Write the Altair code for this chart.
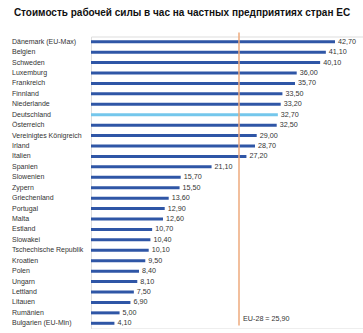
import altair as alt
import pandas as pd

countries = ["Dänemark (EU-Max)", "Belgien", "Schweden", "Luxemburg", "Frankreich", "Finnland",
             "Niederlande", "Deutschland", "Österreich", "Vereinigtes Königreich", "Irland", "Italien",
             "Spanien", "Slowenien", "Zypern", "Griechenland", "Portugal", "Malta", "Estland",
             "Slowakei", "Tschechische Republik", "Kroatien", "Polen", "Ungarn", "Lettland",
             "Litauen", "Rumänien", "Bulgarien (EU-Min)"]
values = [42.7, 41.1, 40.1, 36.0, 35.7, 33.5, 33.2, 32.7, 32.5, 29.0, 28.7, 27.2, 21.1, 15.7,
          15.5, 13.6, 12.9, 12.6, 10.7, 10.4, 10.1, 9.5, 8.4, 8.1, 7.5, 6.9, 5.0, 4.1]
highlight = ["Deutschland"]
eu_avg = 25.9
eu_label = "EU-28 = 25,90"
title_text = "Стоимость рабочей силы в час на частных предприятиях стран ЕС"

df = pd.DataFrame({
    "country": countries,
    "value": values,
    "label": [f"{v:.2f}".replace(".", ",") for v in values],
    "hl": ["yes" if c in highlight else "no" for c in countries],
})
avg_df = pd.DataFrame({"avg": [eu_avg], "label": [eu_label]})

FONT = "Liberation Sans"
W, H = 272, 292

xs = alt.Scale(domain=[0, 47.6], nice=False, zero=True)
ys = alt.Scale(domain=countries, paddingInner=0, paddingOuter=0)

base = alt.Chart(df)

bars = base.mark_bar(size=3).encode(
    x=alt.X("value:Q", scale=xs, axis=None),
    y=alt.Y("country:N", scale=ys, axis=None, sort=countries),
    color=alt.Color("hl:N", scale=alt.Scale(domain=["no", "yes"], range=["#2F56A6", "#74C7EC"]), legend=None),
)

vals = base.mark_text(align="left", baseline="middle", dx=3, font=FONT, fontSize=7.2, color="#333333").encode(
    x=alt.X("value:Q", scale=xs),
    y=alt.Y("country:N", scale=ys, sort=countries),
    text="label:N",
)

names = base.mark_text(align="left", baseline="middle", font=FONT, fontSize=7.0, color="#333333").encode(
    x=alt.value(12 - 91),
    y=alt.Y("country:N", scale=ys, sort=countries),
    text="country:N",
)

rule = alt.Chart(avg_df).mark_rule(color="#EEAA7C", strokeWidth=1.5).encode(
    x=alt.X("avg:Q", scale=xs),
    y=alt.value(-4),
    y2=alt.value(H - 3),
)

avg_text = alt.Chart(avg_df).mark_text(align="left", baseline="middle", dx=4, font=FONT, fontSize=7.2, color="#333333").encode(
    x=alt.X("avg:Q", scale=xs),
    y=alt.value(319 - 36.5),
    text="label:N",
)

title = alt.Chart(pd.DataFrame({"t": [title_text]})).mark_text(
    align="center", baseline="middle", font=FONT, fontSize=10, fontWeight="bold", color="#111111"
).encode(
    x=alt.value(182 - 91),
    y=alt.value(13 - 36.5),
    text="t:N",
)

chart = alt.layer(bars, rule, vals, names, avg_text, title).properties(
    width=W, height=H,
    padding={"left": 91, "top": 36.5, "right": 0, "bottom": 0},
    autosize=alt.AutoSizeParams(type="none"),
).configure_view(stroke=None).configure(background="white")

chart.save("out.html", embed_options={"renderer": "svg", "actions": False})
